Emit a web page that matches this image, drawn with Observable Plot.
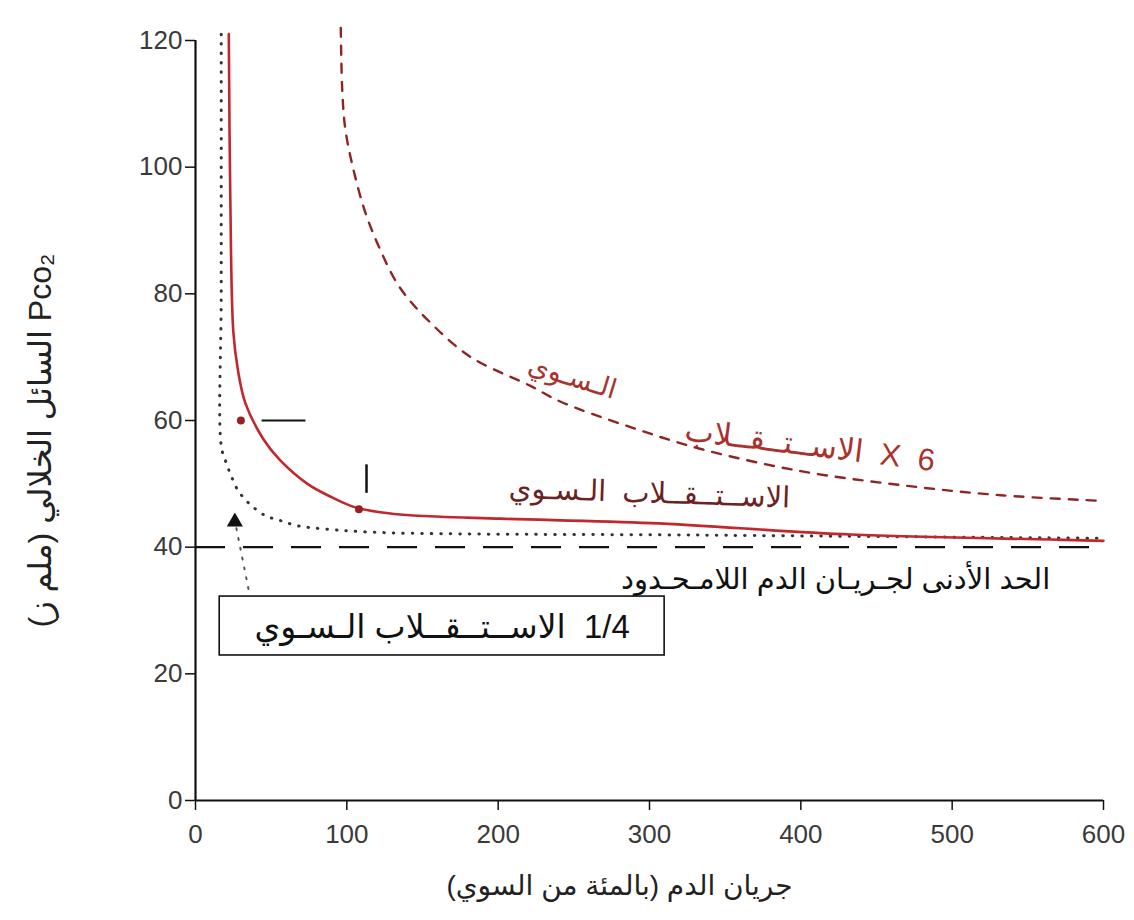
<!DOCTYPE html>
<html>
<head>
<meta charset="utf-8">
<script src="https://cdn.jsdelivr.net/npm/d3@7"></script>
<script src="https://cdn.jsdelivr.net/npm/@observablehq/plot@0.6"></script>
<style>
  html, body { margin: 0; padding: 0; background: #fff; }
  #chart svg { display: block; }
</style>
</head>
<body>
<div id="chart"></div>
<script>
// Interstitial PCO2 against blood flow for three metabolic rates.

// Axis ticks
const xTicks = [0, 100, 200, 300, 400, 500, 600];
const yTicks = [0, 20, 40, 60, 80, 100, 120];

// Six times normal metabolism (dashed red)
const flowHigh = [96, 97, 99, 104, 112, 122, 135, 155, 182, 221, 241, 287, 334, 400, 466, 532, 600];
const pco2High = [122, 112, 106, 100, 93, 87, 81, 75.5, 70, 65.5, 63, 59, 55.5, 52, 49.8, 48.2, 47.3];

// Normal metabolism (solid red)
const flowNormal = [22, 23, 25, 28, 33, 45, 56, 74, 89, 104, 122, 144, 202, 301, 433, 565, 600];
const pco2Normal = [121, 95, 74, 68, 62.7, 57, 53.7, 50, 48, 46.4, 45.5, 45, 44.5, 43.8, 42, 41.2, 41];

// One quarter of normal metabolism (dotted)
const flowQuarter = [17, 17, 17, 20, 23, 28, 35, 46, 56, 67, 89, 124, 334, 600];
const pco2Quarter = [121, 80, 56, 53.5, 51.6, 49, 47, 45, 44.2, 43.4, 42.8, 42.3, 41.9, 41.4];

// Lower limit reached with unlimited blood flow
const lowerLimit = 40;

// Marked points on the curves
const markFlow = [30, 108];
const markPco2 = [60, 46];
const triangleFlow = [26];
const trianglePco2 = [44];

// Small reference ticks next to the marked points
const tickH = {x1: [44], x2: [73], y: [60]};
const tickV = {x: [113], y1: [48.5], y2: [53]};

// Leader from the 1/4 label box to its curve
const leaderFlow = [27, 36];
const leaderPco2 = [43, 32.2];

// Label box for the 1/4 curve
const boxX1 = [16], boxX2 = [310], boxY1 = [22.9], boxY2 = [32.2];

// Curve labels (tatweel stretches the words; no-break spaces widen the gaps)
const nb = "\u00A0";
const labelText = [
  "الـسـوي",
  "6" + nb + nb + "X" + nb + nb + "الاســتــقــلاب",
  "الاســتــقــلاب" + nb + nb + "الـسـوي",
  "الحد" + nb + "الأدنى" + nb + "لجـريـان" + nb + "الدم" + nb + "اللامـحـدود",
  "1/4" + nb + nb + "الاســتــقــلاب" + nb + "الـسـوي"
];
const labelFlow = [249, 406, 300, 423, 163];
const labelPco2 = [66.8, 56, 48.5, 34.8, 27.3];
const labelRotate = [17, 7, 2, 0, 0];
const labelSize = [27, 31, 29, 29, 33];
const labelColor = ["#a8322d", "#a8322d", "#6b2222", "#111", "#111"];

const xLabel = "جريان الدم (بالمئة من السوي)";
const yLabel = "Pco₂ السائل الخلالي (ملم ز)";

// Right-to-left embedding so Arabic phrases with numbers and brackets read correctly
const rtl = s => "\u202B" + s + "\u202C";

const zip = (xs, ys) => xs.map((x, i) => ({x, y: ys[i]}));
const labels = labelText.map((t, i) => ({
  t: rtl(t), x: labelFlow[i], y: labelPco2[i], r: labelRotate[i], s: labelSize[i], c: labelColor[i]
}));

const font = "'Liberation Sans', 'DejaVu Sans', Arial, sans-serif";

const marks = [
  // axis lines
  Plot.ruleY([0], {x1: 0, x2: 600, stroke: "#111", strokeWidth: 2.2}),
  Plot.ruleX([0], {y1: 0, y2: 120, stroke: "#111", strokeWidth: 2.2}),
  Plot.axisX({ticks: xTicks, tickSize: 10, tickPadding: 14, fontSize: 26, label: null, stroke: "#111", strokeWidth: 1.5, fill: "#3a3a3a"}),
  Plot.axisY({ticks: yTicks, tickSize: 10, tickPadding: 3, fontSize: 26, label: null, stroke: "#111", strokeWidth: 1.5, fill: "#3a3a3a"}),

  // lower limit
  Plot.ruleY([lowerLimit], {x1: 0, x2: 600, stroke: "#111", strokeWidth: 2.4, strokeDasharray: "30,18"}),

  // curves
  Plot.line(zip(flowQuarter, pco2Quarter), {x: "x", y: "y", curve: "catmull-rom", stroke: "#333", strokeWidth: 3, strokeDasharray: "0.5,9", strokeLinecap: "round"}),
  Plot.line(zip(flowNormal, pco2Normal), {x: "x", y: "y", curve: "catmull-rom", stroke: "#c0282d", strokeWidth: 2.6}),
  Plot.line(zip(flowHigh, pco2High), {x: "x", y: "y", curve: "catmull-rom", stroke: "#8e2424", strokeWidth: 2.4, strokeDasharray: "9,9"}),

  // marked points and reference ticks
  Plot.dot(zip(markFlow, markPco2), {x: "x", y: "y", r: 4, fill: "#9a1f1f"}),
  Plot.dot(zip(triangleFlow, trianglePco2), {x: "x", y: "y", r: 6, symbol: "triangle", fill: "#111"}),
  Plot.ruleY(tickH.y, {x1: tickH.x1, x2: tickH.x2, stroke: "#111", strokeWidth: 2}),
  Plot.ruleX(tickV.x, {y1: tickV.y1, y2: tickV.y2, stroke: "#111", strokeWidth: 2.5}),
  Plot.line(zip(leaderFlow, leaderPco2), {x: "x", y: "y", stroke: "#555", strokeWidth: 2, strokeDasharray: "2,8", strokeLinecap: "round"}),

  // 1/4 label box
  Plot.rect([0], {x1: boxX1, x2: boxX2, y1: boxY1, y2: boxY2, fill: "none", stroke: "#111", strokeWidth: 1.6}),

  // curve labels
  ...labels.map(d => Plot.text([d], {x: "x", y: "y", text: "t", rotate: d.r, fontSize: d.s, fill: d.c, textAnchor: "middle", lineAnchor: "middle"})),

  // axis titles
  Plot.text([rtl(xLabel)], {frameAnchor: "bottom", dx: -30, dy: 86, fontSize: 28, fill: "#222", textAnchor: "middle", lineAnchor: "middle"}),
  Plot.text([rtl(yLabel)], {frameAnchor: "left", dx: -155, dy: 20, rotate: -90, fontSize: 32, fill: "#222", textAnchor: "middle", lineAnchor: "middle"})
];

const chart = Plot.plot({
  width: 1134,
  height: 920,
  marginLeft: 195,
  marginRight: 31,
  marginTop: 40,
  marginBottom: 120,
  x: {domain: [0, 600]},
  y: {domain: [0, 120]},
  style: {fontFamily: font, background: "#fff", overflow: "visible"},
  marks
});

document.getElementById("chart").append(chart);
</script>
</body>
</html>
